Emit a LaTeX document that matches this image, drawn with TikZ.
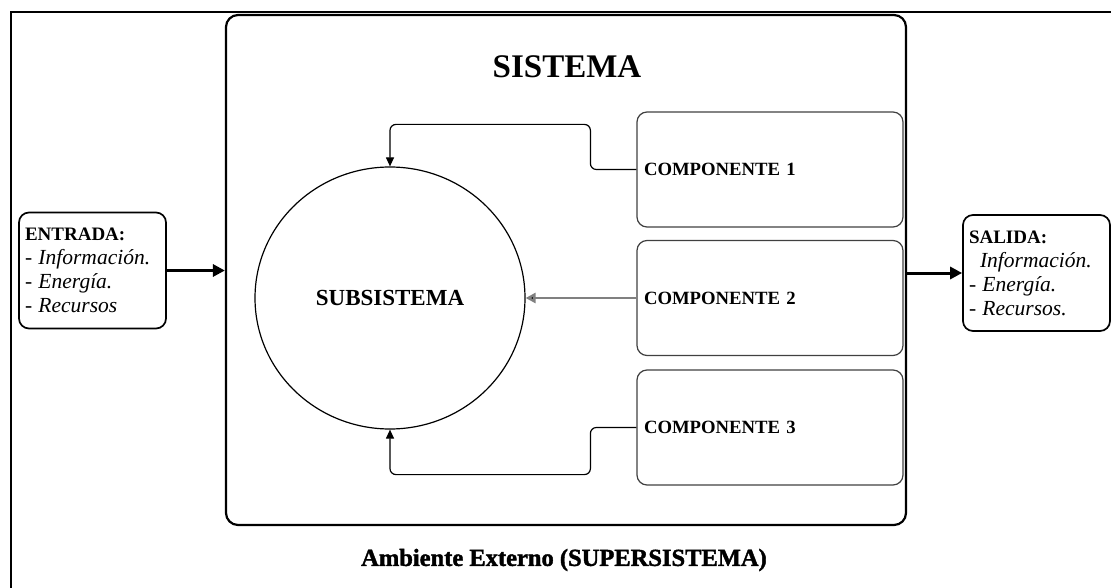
\documentclass[tikz,border=0pt]{standalone}
\usepackage{fontspec}
\setmainfont{Liberation Serif}
\usetikzlibrary{arrows.meta,shapes.geometric,calc}
\begin{document}
\begin{tikzpicture}[x=1pt,y=-1pt,
  iobox/.style={draw, rounded corners=10pt, line width=1.7pt, align=left,
    text width=135pt, inner sep=6pt, minimum height=116pt,
    font=\fontsize{19}{24}\selectfont},
  itemtext/.style={},
  compbox/.style={draw=black!75, rounded corners=10pt, line width=1.2pt, align=left,
    text width=252pt, inner sep=7pt, minimum height=115pt,
    font=\fontsize{18.7}{21}\selectfont\bfseries},
  link/.style={line width=1.2pt, rounded corners=6pt, -{Triangle[length=9pt,width=8pt]}},
  flow/.style={line width=3pt, -{Triangle[length=12pt,width=12pt]}}]
\useasboundingbox (0,0) rectangle (1111,588);
\clip (0,0) rectangle (1111,588);

% environment frame
\draw[line width=2.6pt] (11,620) -- (11,12) -- (1130,12);

% system
\node[draw, rounded corners=12pt, line width=2.2pt, minimum width=680pt,
  minimum height=510pt, inner sep=0pt] (sys) at (566,270) {};
\node[font=\fontsize{33}{36}\selectfont\bfseries] (title) at (567,67) {SISTEMA};

% subsystem
\node[ellipse, draw, line width=1.2pt, minimum width=270pt, minimum height=262pt,
  inner sep=0pt, font=\fontsize{23}{26}\selectfont\bfseries] (sub) at (390,298) {SUBSISTEMA};

% components
\node[compbox] (c1) at (770,169.5) {COMPONENTE 1};
\node[compbox] (c2) at (770,298) {COMPONENTE 2};
\node[compbox] (c3) at (770,427.5) {COMPONENTE 3};

% input and output
\newcommand{\itemline}[1]{{\fontsize{21.5}{24}\selectfont\itshape #1}}
\node[iobox] (ent) at (92.5,270.5) {\textbf{ENTRADA:}\\
  \itemline{- Información.}\\
  \itemline{- Energía.}\\
  \itemline{- Recursos}};
\node[iobox] (sal) at (1036.5,273) {\textbf{SALIDA:}\\
  \hspace*{11pt}\itemline{Información.}\\
  \itemline{- Energía.}\\
  \itemline{- Recursos.}};

% connectors
\draw[link] (c1.west) -- ++(-46,0) |- ($(sub.north)+(0,-42)$) -- (sub.north);
\draw[link] (c3.west) -- ++(-46,0) |- ($(sub.south)+(0,45)$) -- (sub.south);
\draw[line width=2.8pt, draw=black!50, -{Triangle[length=10pt,width=10pt,fill=black]}] (c2.west) -- (sub.east);
\draw[flow] (ent.east) -- (ent.east -| sys.west);
\draw[flow] (sys.east |- sal.west) -- (sal.west);

% environment label
\node[font=\fontsize{24.5}{28}\selectfont\bfseries\addfontfeature{FakeBold=1.6}] (env) at (564,560) {Ambiente Externo (SUPERSISTEMA)};
\end{tikzpicture}
\end{document}
